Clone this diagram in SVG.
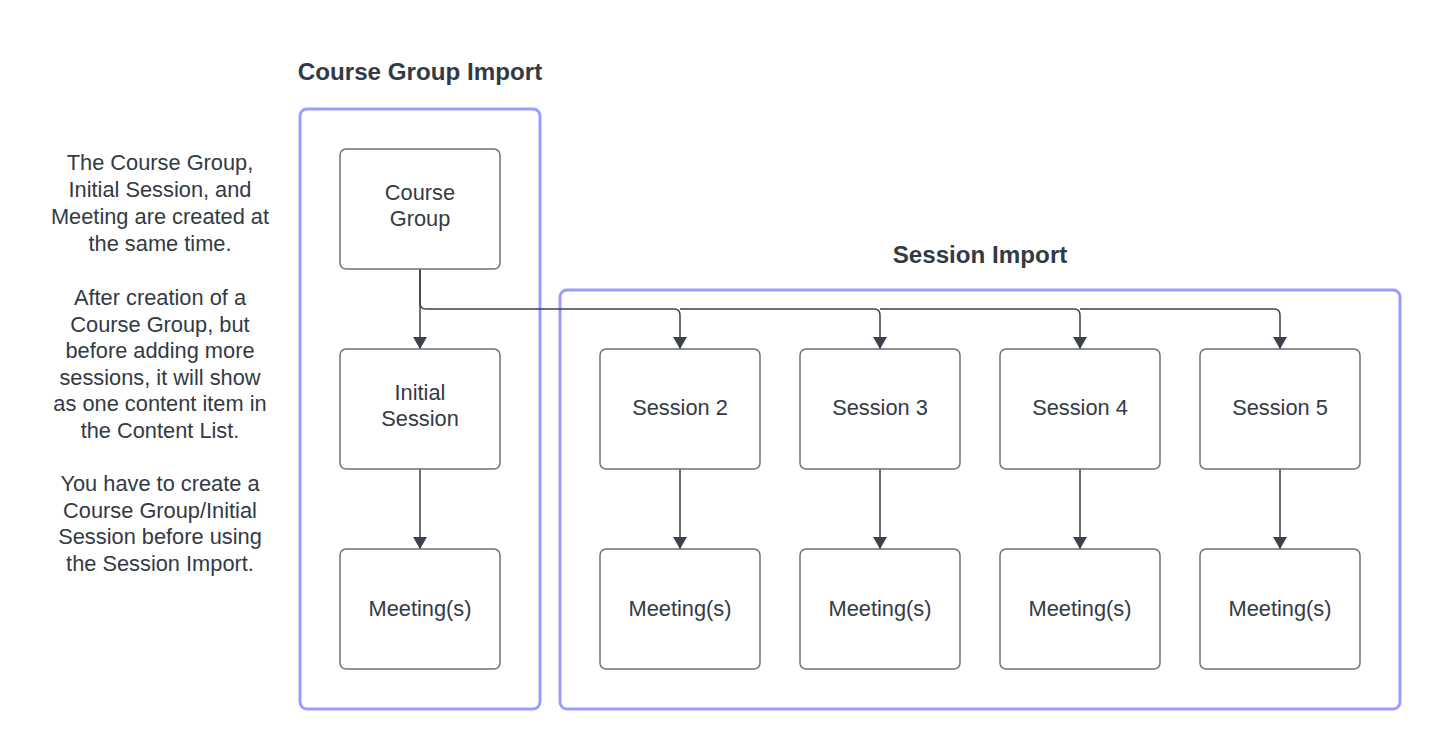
<svg xmlns="http://www.w3.org/2000/svg" width="1440" height="749" viewBox="0 0 1440 749">
<style>
.cont{fill:none;stroke:#9d9cff;stroke-width:3}
.node{fill:#fff;stroke:#6c717a;stroke-width:1.5}
.t{font-family:"Liberation Sans",Arial,sans-serif;font-size:21.8px;fill:#333a44;text-anchor:middle}
.h{font-family:"Liberation Sans",Arial,sans-serif;font-size:24.2px;font-weight:bold;fill:#333a44;text-anchor:middle}
.c{fill:none;stroke:#3a414a;stroke-width:1.5}
</style>
<defs>
<marker id="arr" viewBox="0 0 12 14" refX="12" refY="7" markerWidth="12" markerHeight="14" markerUnits="userSpaceOnUse" orient="auto">
<path d="M0,0 L12,7 L0,14 z" fill="#3a414a"/>
</marker>
</defs>
<rect width="1440" height="749" fill="#fff"/>
<g id="notes">
<text class="t" x="160" y="170">The Course Group,</text>
<text class="t" x="160" y="197">Initial Session, and</text>
<text class="t" x="160" y="224">Meeting are created at</text>
<text class="t" x="160" y="251">the same time.</text>
<text class="t" x="160" y="305">After creation of a</text>
<text class="t" x="160" y="332">Course Group, but</text>
<text class="t" x="160" y="358">before adding more</text>
<text class="t" x="160" y="385">sessions, it will show</text>
<text class="t" x="160" y="411">as one content item in</text>
<text class="t" x="160" y="438">the Content List.</text>
<text class="t" x="160" y="491">You have to create a</text>
<text class="t" x="160" y="518">Course Group/Initial</text>
<text class="t" x="160" y="544">Session before using</text>
<text class="t" x="160" y="571">the Session Import.</text>
</g>
<g id="course-group-import">
<text class="h" x="420" y="80">Course Group Import</text>
<rect class="cont" x="300" y="109" width="240" height="600" rx="7"/>
</g>
<g id="session-import">
<text class="h" x="980" y="263">Session Import</text>
<rect class="cont" x="560" y="290" width="840" height="419" rx="7"/>
</g>
<g id="connectors">
<path class="c" d="M420,269 V349" marker-end="url(#arr)"/>
<path class="c" d="M420,269 V303 Q420,309 426,309 H674 Q680,309 680,315 V349" marker-end="url(#arr)"/>
<path class="c" d="M680,309 H874 Q880,309 880,315 V349" marker-end="url(#arr)"/>
<path class="c" d="M880,309 H1074 Q1080,309 1080,315 V349" marker-end="url(#arr)"/>
<path class="c" d="M1080,309 H1274 Q1280,309 1280,315 V349" marker-end="url(#arr)"/>
<path class="c" d="M420,469 V549" marker-end="url(#arr)"/>
<path class="c" d="M680,469 V549" marker-end="url(#arr)"/>
<path class="c" d="M880,469 V549" marker-end="url(#arr)"/>
<path class="c" d="M1080,469 V549" marker-end="url(#arr)"/>
<path class="c" d="M1280,469 V549" marker-end="url(#arr)"/>
</g>
<g id="course-group"><rect class="node" x="340" y="149" width="160" height="120" rx="6"/><text class="t" x="420" y="200">Course</text><text class="t" x="420" y="226">Group</text></g>
<g id="initial-session"><rect class="node" x="340" y="349" width="160" height="120" rx="6"/><text class="t" x="420" y="400">Initial</text><text class="t" x="420" y="426">Session</text></g>
<g id="meeting-1"><rect class="node" x="340" y="549" width="160" height="120" rx="6"/><text class="t" x="420" y="616">Meeting(s)</text></g>
<g id="session-2"><rect class="node" x="600" y="349" width="160" height="120" rx="6"/><text class="t" x="680" y="415">Session 2</text></g>
<g id="session-3"><rect class="node" x="800" y="349" width="160" height="120" rx="6"/><text class="t" x="880" y="415">Session 3</text></g>
<g id="session-4"><rect class="node" x="1000" y="349" width="160" height="120" rx="6"/><text class="t" x="1080" y="415">Session 4</text></g>
<g id="session-5"><rect class="node" x="1200" y="349" width="160" height="120" rx="6"/><text class="t" x="1280" y="415">Session 5</text></g>
<g id="meeting-2"><rect class="node" x="600" y="549" width="160" height="120" rx="6"/><text class="t" x="680" y="616">Meeting(s)</text></g>
<g id="meeting-3"><rect class="node" x="800" y="549" width="160" height="120" rx="6"/><text class="t" x="880" y="616">Meeting(s)</text></g>
<g id="meeting-4"><rect class="node" x="1000" y="549" width="160" height="120" rx="6"/><text class="t" x="1080" y="616">Meeting(s)</text></g>
<g id="meeting-5"><rect class="node" x="1200" y="549" width="160" height="120" rx="6"/><text class="t" x="1280" y="616">Meeting(s)</text></g>
</svg>
